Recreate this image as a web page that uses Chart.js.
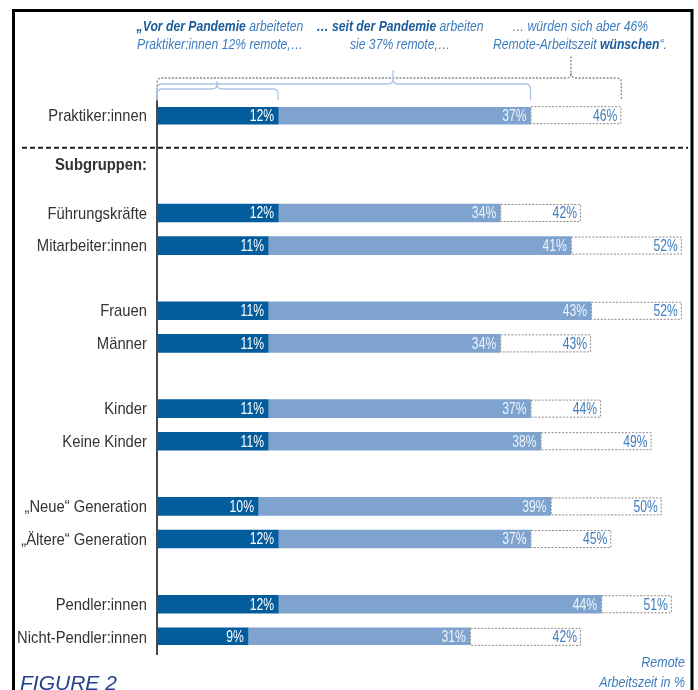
<!DOCTYPE html>
<html>
<head>
<meta charset="utf-8">
<script src="https://cdn.jsdelivr.net/npm/chart.js@4.4.1/dist/chart.umd.min.js"></script>
<style>
  html, body { margin: 0; padding: 0; background: #fff; }
  #wrap { width: 698px; height: 690px; }
</style>
</head>
<body>
<div id="wrap"><canvas id="chart" width="698" height="690"></canvas></div>
<script>
const groups = ['Praktiker:innen', 'Führungskräfte', 'Mitarbeiter:innen', 'Frauen', 'Männer',
  'Kinder', 'Keine Kinder', '„Neue“ Generation', '„Ältere“ Generation', 'Pendler:innen', 'Nicht-Pendler:innen'];
const beforePandemic = [12, 12, 11, 11, 11, 11, 11, 10, 12, 12, 9];
const sincePandemic = [37, 34, 41, 43, 34, 37, 38, 39, 37, 44, 31];
const wished = [46, 42, 52, 52, 43, 44, 49, 50, 45, 51, 42];
const subgroupTitle = 'Subgruppen:';
const axisTitle = ['Remote', 'Arbeitszeit in %'];
const figureLabel = 'FIGURE 2';

// rows sit on half-row slots of the category axis, empty slots make the gaps
const rowSlots = [0, 6, 8, 12, 14, 18, 20, 24, 26, 30, 32];
const subgroupSlot = 3;
const separatorSlot = 2;
const slotCount = 33;

const DARK = '#035c9c';
const LIGHT = '#7fa3cf';
const TEXTBLUE = '#3d7cbf';
const BOLDBLUE = '#1b5b9b';
const SANS = '"Liberation Sans", Arial, sans-serif';

const labels = new Array(slotCount).fill('');
const dBefore = new Array(slotCount).fill(null);
const dSince = new Array(slotCount).fill(null);
const dWish = new Array(slotCount).fill(null);
groups.forEach((g, i) => {
  const s = rowSlots[i];
  labels[s] = g;
  dBefore[s] = beforePandemic[i];
  dSince[s] = sincePandemic[i] - beforePandemic[i];
  dWish[s] = wished[i] - sincePandemic[i];
});
labels[subgroupSlot] = subgroupTitle;

// the original uses a condensed face, so squeeze the text horizontally
function narrowText(ctx, text, x, y, sx) {
  ctx.save();
  ctx.translate(x, y);
  ctx.scale(sx, 1);
  ctx.fillText(text, 0, 0);
  ctx.restore();
}

function drawParts(ctx, parts, cx, y, size, sx) {
  let w = 0;
  parts.forEach(p => {
    ctx.font = (p.bold ? 'italic bold ' : 'italic ') + size + 'px ' + SANS;
    p.w = ctx.measureText(p.t).width * sx;
    w += p.w;
  });
  let x = cx - w / 2;
  ctx.textAlign = 'left';
  ctx.textBaseline = 'middle';
  parts.forEach(p => {
    ctx.font = (p.bold ? 'italic bold ' : 'italic ') + size + 'px ' + SANS;
    ctx.fillStyle = p.bold ? BOLDBLUE : TEXTBLUE;
    narrowText(ctx, p.t, x, y, sx);
    x += p.w;
  });
}

function bracket(ctx, x1, x2, yTop, yBot, nubX, nubTop, r) {
  ctx.beginPath();
  ctx.moveTo(x1, yBot);
  ctx.lineTo(x1, yTop + r);
  ctx.quadraticCurveTo(x1, yTop, x1 + r, yTop);
  ctx.lineTo(nubX - r, yTop);
  ctx.quadraticCurveTo(nubX, yTop, nubX, yTop - r);
  ctx.lineTo(nubX, nubTop);
  ctx.moveTo(nubX, yTop - r);
  ctx.quadraticCurveTo(nubX, yTop, nubX + r, yTop);
  ctx.lineTo(x2 - r, yTop);
  ctx.quadraticCurveTo(x2, yTop, x2, yTop + r);
  ctx.lineTo(x2, yBot);
  ctx.stroke();
}

const decor = {
  id: 'decor',
  afterDatasetsDraw(chart) {
    const { ctx, scales: { y } } = chart;
    const m0 = chart.getDatasetMeta(0), m1 = chart.getDatasetMeta(1), m2 = chart.getDatasetMeta(2);
    ctx.save();
    // dashed outline of the wished part
    rowSlots.forEach(s => {
      const el = m2.data[s];
      ctx.setLineDash([2, 1.5]);
      ctx.strokeStyle = '#8a8a8a';
      ctx.lineWidth = 1;
      ctx.strokeRect(el.base + 0.5, el.y - el.height / 2 + 0.5, el.x - el.base - 1, el.height - 1);
    });
    ctx.setLineDash([]);
    ctx.textAlign = 'right';
    ctx.textBaseline = 'middle';
    ctx.font = '16px ' + SANS;
    rowSlots.forEach((s, i) => {
      ctx.fillStyle = '#ffffff';
      narrowText(ctx, beforePandemic[i] + '%', m0.data[s].x - 4, m0.data[s].y + 1, 0.76);
      ctx.fillStyle = '#eef3fa';
      narrowText(ctx, sincePandemic[i] + '%', m1.data[s].x - 4, m1.data[s].y + 1, 0.76);
      ctx.fillStyle = TEXTBLUE;
      narrowText(ctx, wished[i] + '%', m2.data[s].x - 4, m2.data[s].y + 1, 0.76);
    });
    // category labels
    ctx.fillStyle = '#333';
    labels.forEach((lab, s) => {
      if (!lab) return;
      ctx.font = (s === subgroupSlot ? 'bold ' : '') + '17px ' + SANS;
      narrowText(ctx, lab, y.left + y.width - 10, y.getPixelForValue(s) + 1, 0.87);
    });
    ctx.restore();
  },
  afterDraw(chart) {
    const { ctx, scales: { x, y }, chartArea } = chart;
    ctx.save();
    const x0 = x.getPixelForValue(0);
    // y axis line
    ctx.strokeStyle = '#4a4a4a';
    ctx.lineWidth = 2;
    ctx.beginPath();
    ctx.moveTo(x0, chartArea.top - 10);
    ctx.lineTo(x0, chartArea.bottom + 10);
    ctx.stroke();
    // separator
    const ySep = y.getPixelForValue(separatorSlot);
    ctx.strokeStyle = '#222';
    ctx.setLineDash([5, 3]);
    ctx.beginPath();
    ctx.moveTo(22, ySep);
    ctx.lineTo(688, ySep);
    ctx.stroke();
    ctx.setLineDash([]);

    // brackets over the first row
    const el = chart.getDatasetMeta(0).data[rowSlots[0]];
    const yBot = el.y - el.height / 2 - 6;
    const x12 = x.getPixelForValue(beforePandemic[0]);
    const x37 = x.getPixelForValue(sincePandemic[0]);
    const x46 = x.getPixelForValue(wished[0]);
    ctx.lineWidth = 1.3;
    ctx.strokeStyle = '#888';
    ctx.setLineDash([2, 1.5]);
    bracket(ctx, x0, x46, 78, yBot, 571, 55, 5);
    ctx.setLineDash([]);
    ctx.strokeStyle = '#a9c5e6';
    bracket(ctx, x0, x37, 84, yBot, 393, 70, 5);
    bracket(ctx, x0, x12, 89, yBot, 217, 81, 5);

    // callout texts
    const fs = 14, sq = 0.87;
    drawParts(ctx, [{ t: '„Vor der Pandemie', bold: true }, { t: ' arbeiteten' }], 220, 27, fs, sq);
    drawParts(ctx, [{ t: 'Praktiker:innen ' + beforePandemic[0] + '% remote,…' }], 220, 45, fs, sq);
    drawParts(ctx, [{ t: '… seit der Pandemie', bold: true }, { t: ' arbeiten' }], 400, 27, fs, sq);
    drawParts(ctx, [{ t: 'sie ' + sincePandemic[0] + '% remote,…' }], 400, 45, fs, sq);
    drawParts(ctx, [{ t: '… würden sich aber ' + wished[0] + '%' }], 580, 27, fs, sq);
    drawParts(ctx, [{ t: 'Remote-Arbeitszeit ' }, { t: 'wünschen', bold: true }, { t: '“.' }], 580, 45, fs, sq);

    // axis title
    ctx.font = 'italic 14px ' + SANS;
    ctx.fillStyle = TEXTBLUE;
    ctx.textAlign = 'right';
    ctx.textBaseline = 'middle';
    narrowText(ctx, axisTitle[0], 685, 663, 0.89);
    narrowText(ctx, axisTitle[1], 685, 683, 0.89);

    // figure label
    ctx.font = 'italic 21px ' + SANS;
    ctx.fillStyle = '#24408f';
    ctx.textAlign = 'left';
    ctx.textBaseline = 'alphabetic';
    ctx.fillText(figureLabel, 20, 690);

    // frame
    ctx.strokeStyle = '#000';
    ctx.lineWidth = 3;
    ctx.beginPath();
    ctx.moveTo(13.5, 700);
    ctx.lineTo(13.5, 10.5);
    ctx.lineTo(692, 10.5);
    ctx.lineTo(692, 700);
    ctx.stroke();
    ctx.restore();
  }
};

new Chart(document.getElementById('chart'), {
  type: 'bar',
  data: {
    labels: labels,
    datasets: [
      { label: 'Vor der Pandemie', data: dBefore, backgroundColor: DARK },
      { label: 'Seit der Pandemie', data: dSince, backgroundColor: LIGHT },
      { label: 'Gewünscht', data: dWish, backgroundColor: '#ffffff' }
    ]
  },
  options: {
    indexAxis: 'y',
    responsive: false,
    animation: false,
    layout: { padding: { top: 107, bottom: 45, left: 0, right: 6 } },
    datasets: { bar: { barThickness: 18 } },
    plugins: { legend: { display: false }, tooltip: { enabled: false } },
    scales: {
      x: { stacked: true, min: 0, max: 53, display: false },
      y: {
        stacked: true,
        grid: { display: false, drawTicks: false },
        border: { display: false },
        afterFit(scale) { scale.width = 157; },
        ticks: { display: false, autoSkip: false }
      }
    }
  },
  plugins: [decor]
});
</script>
</body>
</html>
